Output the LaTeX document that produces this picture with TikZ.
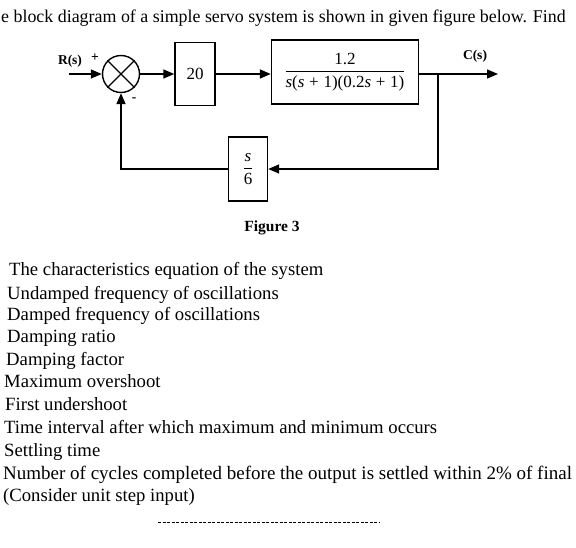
\documentclass[tikz,border=0pt]{standalone}
\usepackage{fontspec}
\setmainfont{Liberation Serif}
\usetikzlibrary{arrows.meta}
\newcommand{\sv}{\textit{s}}
\begin{document}
\begin{tikzpicture}[
                x=1pt, y=-1pt,
                block/.style={draw, line width=1.4pt, minimum width=40pt, minimum height=63pt, inner sep=2pt, font=\fontsize{17}{19}\selectfont},
                sumpoint/.style={draw, circle, line width=1.4pt, minimum size=37pt, inner sep=0pt},
                signal/.style={line width=1.4pt, -{Triangle[length=11pt, width=9pt]}},
                wire/.style={line width=1.4pt},
                label/.style={font=\bfseries\fontsize{13.5}{15}\selectfont, inner sep=0pt},
                question/.style={anchor=base west, inner sep=0pt, font=\fontsize{18.7}{21}\selectfont}
                ]
                \useasboundingbox (0,0) rectangle (576,548);
                \node[question, font=\fontsize{17.9}{21}\selectfont] (intro) at (1,23) {e block diagram of a simple servo system is shown in given figure below. Find};
                % Forward path
                \node[sumpoint] (sum) at (121,74) {};
                \draw[wire] (sum.45) -- (sum.225) (sum.135) -- (sum.-45);
                \node[block] (gain) at (195,74) {20};
                \node[block, minimum width=147pt, minimum height=64pt] (plant) at (345,72)
                    {$\displaystyle\frac{\mbox{1.2}}{\mbox{\sv(\sv\;+\;1)(0.2\sv\;+\;1)}}$};
                \coordinate (in) at (69,74);
                \coordinate (branch) at (438,74);
                \coordinate (out) at (498,74);
                \node[label] (rs) at (70,61) {R(s)};
                \node[label] (plus) at (95,58) {+};
                \node[label] (minus) at (134,100) {-};
                \node[label] (cs) at (475,56) {C(s)};
                \draw[signal] (in) -- (sum.west);
                \draw[signal] (sum.east) -- (gain.west);
                \draw[signal] (gain.east) -- (gain.east -| plant.west);
                \draw[signal] (plant.east |- branch) -- (out);
                % Feedback path
                \node[block, minimum width=39pt, minimum height=64pt] (feedback) at (248,169)
                    {$\displaystyle\frac{\mbox{\sv}}{\mbox{6}}$};
                \draw[signal] (branch) |- (feedback.east);
                \draw[signal] (feedback.west) -| (sum.south);
                \node[label, font=\bfseries\fontsize{15.5}{17}\selectfont] (caption) at (272,228) {Figure 3};
                % Questions
                \node[question] (q1) at (9,276) {The characteristics equation of the system};
                \node[question] (q2) at (7,299) {Undamped frequency of oscillations};
                \node[question] (q3) at (7,320) {Damped frequency of oscillations};
                \node[question] (q4) at (7,342) {Damping ratio};
                \node[question] (q5) at (6,365) {Damping factor};
                \node[question] (q6) at (4,387) {Maximum overshoot};
                \node[question] (q7) at (5,410) {First undershoot};
                \node[question] (q8) at (4,433) {Time interval after which maximum and minimum occurs};
                \node[question] (q9) at (4,456) {Settling time};
                \node[question, font=\fontsize{19}{21}\selectfont] (q10) at (3,479) {Number of cycles completed before the output is settled within 2\% of final};
                \node[question] (q11) at (3,501) {(Consider unit step input)};
                \coordinate (rulel) at (158,522);
                \coordinate (ruler) at (379,522);
                \draw[wire, line width=0.9pt, dash pattern=on 3pt off 1.5pt] (rulel) -- (ruler);
            \end{tikzpicture}
\end{document}
